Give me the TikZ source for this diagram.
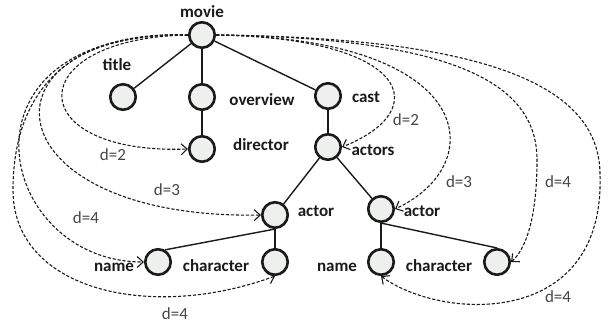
\documentclass[tikz,border=0pt]{standalone}
\usepackage{fontspec}
\setmainfont{Carlito}
\usepackage{xcolor}
\usepackage{tikz}
\usetikzlibrary{arrows.meta}

\definecolor{nodefill}{HTML}{EEF0EE}
\definecolor{inkgrey}{HTML}{1A1A1A}
\definecolor{labelgrey}{HTML}{454545}

\tikzset{
	vertex/.style={shape=circle, draw=inkgrey, fill=nodefill, line width=2.6pt, minimum size=25.5pt, inner sep=0pt},
	namelabel/.style={anchor=base, inner sep=0pt, text=inkgrey, font=\fontsize{17}{20}\selectfont\bfseries},
	hoplabel/.style={anchor=base, inner sep=0pt, text=labelgrey, font=\fontsize{17}{20}\selectfont},
	treeline/.style={draw=inkgrey, line width=1.4pt},
	hop/.style={draw=inkgrey, line width=1.1pt, dash pattern=on 3.2pt off 1.8pt, -{Straight Barb[length=6pt, width=11pt]}}
}

\begin{document}
\begin{tikzpicture}[x=1pt, y=-1pt]

	\useasboundingbox (0, 0) rectangle (612, 322);

	\node[vertex] (Movie) at (202, 35) {};
	\node[vertex] (Title) at (123, 97) {};
	\node[vertex] (Overview) at (202, 97) {};
	\node[vertex] (Cast) at (328, 96) {};
	\node[vertex] (Director) at (202, 149) {};
	\node[vertex] (Actors) at (328, 147) {};
	\node[vertex] (ActorL) at (275, 215) {};
	\node[vertex] (ActorR) at (381, 209) {};
	\node[vertex] (NameL) at (158, 262) {};
	\node[vertex] (CharL) at (275, 262) {};
	\node[vertex] (NameR) at (381, 262) {};
	\node[vertex] (CharR) at (497, 262) {};

	\node[namelabel] (MovieText) at (202, 17) {movie};
	\node[namelabel] (TitleText) at (117, 70) {title};
	\node[namelabel] (OverviewText) at (262, 105) {overview};
	\node[namelabel] (CastText) at (366, 102) {cast};
	\node[namelabel] (DirectorText) at (261, 150) {director};
	\node[namelabel] (ActorsText) at (373, 155) {actors};
	\node[namelabel] (ActorLText) at (316, 216) {actor};
	\node[namelabel] (ActorRText) at (422, 216) {actor};
	\node[namelabel] (NameLText) at (114, 271) {name};
	\node[namelabel] (CharLText) at (216, 271) {character};
	\node[namelabel] (NameRText) at (337, 271) {name};
	\node[namelabel] (CharRText) at (439, 271) {character};

	\draw[treeline] (Movie) -- (Title);
	\draw[treeline] (Movie) -- (Overview);
	\draw[treeline] (Movie) -- (Cast);
	\draw[treeline] (Overview) -- (Director);
	\draw[treeline] (Cast) -- (Actors);
	\draw[treeline] (Actors) -- (ActorL);
	\draw[treeline] (Actors) -- (ActorR);
	\draw[treeline] (ActorL.south) -- (NameL.60);
	\draw[treeline] (ActorL) -- (CharL);
	\draw[treeline] (ActorR) -- (NameR);
	\draw[treeline] (ActorR.south) -- (CharR.north);

	\draw[hop] (Movie.west) .. controls (20, 38) and (20, 155) .. (Director.west);
	\draw[hop] (Movie.west) .. controls (-30, 32) and (-10, 220) .. (ActorL.west);
	\draw[hop] (Movie.west) .. controls (-55, 30) and (-5, 262) .. (NameL.west);
	\draw[hop] (Movie.west) .. controls (60, 30) and (13, 100) .. (13, 190) .. controls (13, 290) and (150, 322) .. (CharL.south);
	\draw[hop] (Movie.east) .. controls (410, 38) and (435, 110) .. (Actors.east);
	\draw[hop] (Movie.east) .. controls (480, 38) and (490, 165) .. (ActorR.east);
	\draw[hop] (Movie.east) .. controls (470, 38) and (537, 90) .. (537, 160) .. controls (537, 220) and (525, 250) .. (CharR.east);
	\draw[hop] (Movie.east) .. controls (500, 38) and (600, 90) .. (600, 175) .. controls (605, 330) and (440, 320) .. (NameR.south);

	\node[hoplabel] (DirectorHop) at (113, 160) {d=2};
	\node[hoplabel] (ActorsHop) at (406, 125) {d=2};
	\node[hoplabel] (ActorLHop) at (167, 195) {d=3};
	\node[hoplabel] (ActorRHop) at (459, 187) {d=3};
	\node[hoplabel] (NameLHop) at (86, 223) {d=4};
	\node[hoplabel] (CharLHop) at (175, 319) {d=4};
	\node[hoplabel] (CharRHop) at (558, 187) {d=4};
	\node[hoplabel] (NameRHop) at (558, 302) {d=4};

\end{tikzpicture}
\end{document}
